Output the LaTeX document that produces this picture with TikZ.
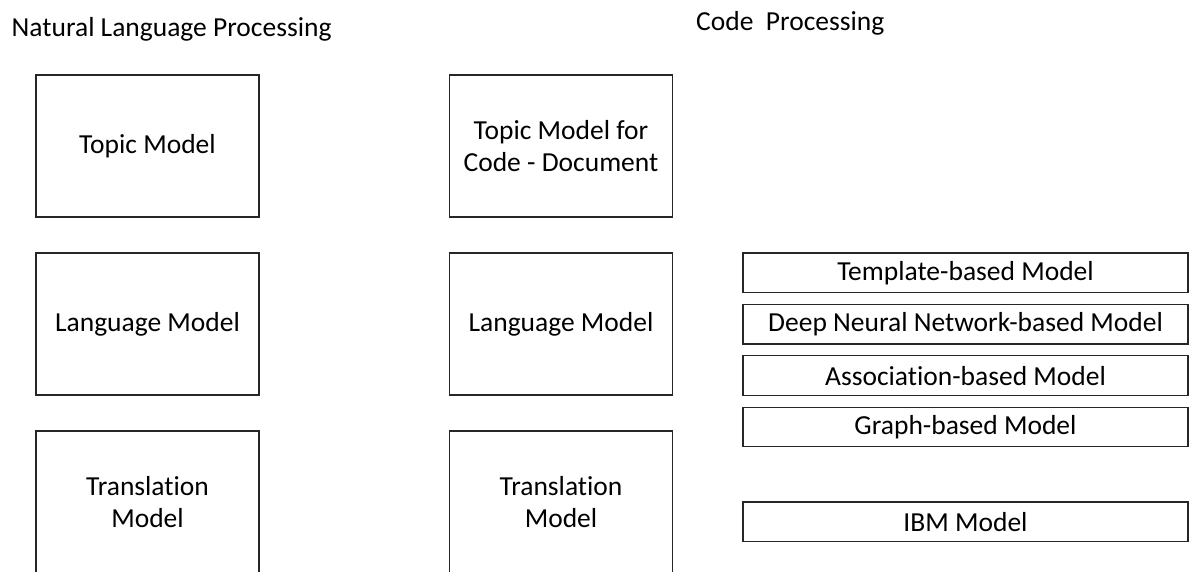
\documentclass[tikz,border=0pt]{standalone}
\usepackage{fontspec}
\setmainfont[RawFeature={-liga;-dlig}]{Carlito}
\begin{document}
\begin{tikzpicture}[x=1pt,y=-1pt,
  every node/.style={font=\fontsize{27.5}{32}\selectfont, inner sep=0pt},
  bigbox/.style={draw=black!85, line width=1.2pt, minimum width=223pt, minimum height=142pt, align=center},
  slimbox/.style={draw=black!85, line width=1.2pt, minimum width=445pt, minimum height=39.5pt}]
\useasboundingbox (0,0) rectangle (1190,572);
\clip (0,0) rectangle (1190,572);
% titles
\node[anchor=base west] (nlp) at (11.5,37) {Natural Language Processing};
\node[anchor=base west] (cp) at (696,31) {Code\ \ Processing};
% left column
\node[bigbox] (tm1) at (147.5,146) {Topic Model};
\node[bigbox] (lm1) at (147.5,324) {Language Model};
\node[bigbox] (tr1) at (147.5,502) {Translation\\Model};
% middle column
\node[bigbox] (tm2) at (561,146) {Topic Model for\\Code - Document};
\node[bigbox] (lm2) at (561,324) {Language Model};
\node[bigbox] (tr2) at (561,502) {Translation\\Model};
% right column
\node[slimbox] (r1) at (965.5,272.7) {Template-based Model};
\node[slimbox] (r2) at (965.5,324.2) {Deep Neural Network-based Model};
\node[slimbox] (r3) at (965.5,375.6) {Association-based Model};
\node[slimbox] (r4) at (965.5,427.1) {Graph-based Model};
\node[slimbox] (r5) at (965.5,521.8) {IBM Model};
\end{tikzpicture}
\end{document}
